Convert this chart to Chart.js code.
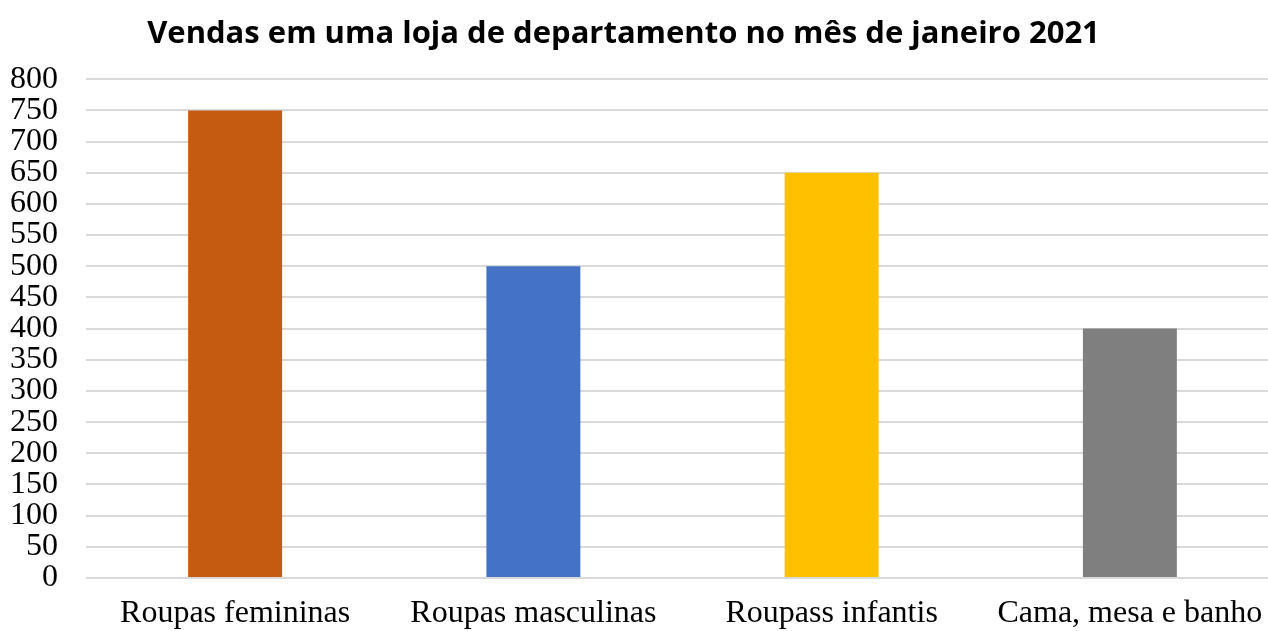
<!DOCTYPE html>
<html>
<head>
<meta charset="utf-8">
<script src="https://cdn.jsdelivr.net/npm/chart.js@4/dist/chart.umd.min.js"></script>
<style>
  html, body { margin: 0; padding: 0; background: #fff; overflow: hidden; }
  /* plot area runs past the right edge of the picture, as in the source */
  #wrap { width: 1279px; height: 631px; }
</style>
</head>
<body>
<div id="wrap"><canvas id="chart"></canvas></div>
<script>
// Sales by department, January 2021
const categories = ["Roupas femininas", "Roupas masculinas", "Roupass infantis", "Cama, mesa e banho"];
const sales = [750, 500, 650, 400];
const barColors = ["#C55A11", "#4472C4", "#FFC000", "#7F7F7F"];
const chartTitle = "Vendas em uma loja de departamento no mês de janeiro 2021";

const serif = "'Liberation Serif', 'Times New Roman', serif";

// nudge the title a bit left of the canvas centre
const titleShift = {
    id: "titleShift",
    afterLayout(chart) {
        if (chart.titleBlock) {
            chart.titleBlock.left -= 16;
            chart.titleBlock.right -= 16;
        }
    }
};

new Chart(document.getElementById("chart"), {
    type: "bar",
    data: {
        labels: categories,
        datasets: [{
            data: sales,
            backgroundColor: barColors,
            categoryPercentage: 1,
            barPercentage: 0.315
        }]
    },
    plugins: [titleShift],
    options: {
        responsive: true,
        maintainAspectRatio: false,
        animation: false,
        layout: { padding: 0 },
        plugins: {
            legend: { display: false },
            tooltip: { enabled: false },
            title: {
                display: true,
                text: chartTitle,
                color: "#000",
                font: { family: "'Open Sans', sans-serif", size: 31, weight: "bold" },
                padding: { top: 16, bottom: 26 }
            }
        },
        scales: {
            x: {
                grid: { display: false },
                border: { display: false },
                ticks: {
                    color: "#000",
                    font: { family: serif, size: 32 },
                    padding: 8,
                    maxRotation: 0,
                    autoSkip: false
                },
                afterFit(scale) { scale.height = 53; }
            },
            y: {
                min: 0,
                max: 800,
                grid: { color: "#d9d9d9", lineWidth: 2, drawTicks: false },
                border: { display: false },
                ticks: {
                    stepSize: 50,
                    color: "#000",
                    font: { family: serif, size: 32 },
                    padding: 28,
                    autoSkip: false
                },
                afterFit(scale) { scale.width = 86; }
            }
        }
    }
});
</script>
</body>
</html>
